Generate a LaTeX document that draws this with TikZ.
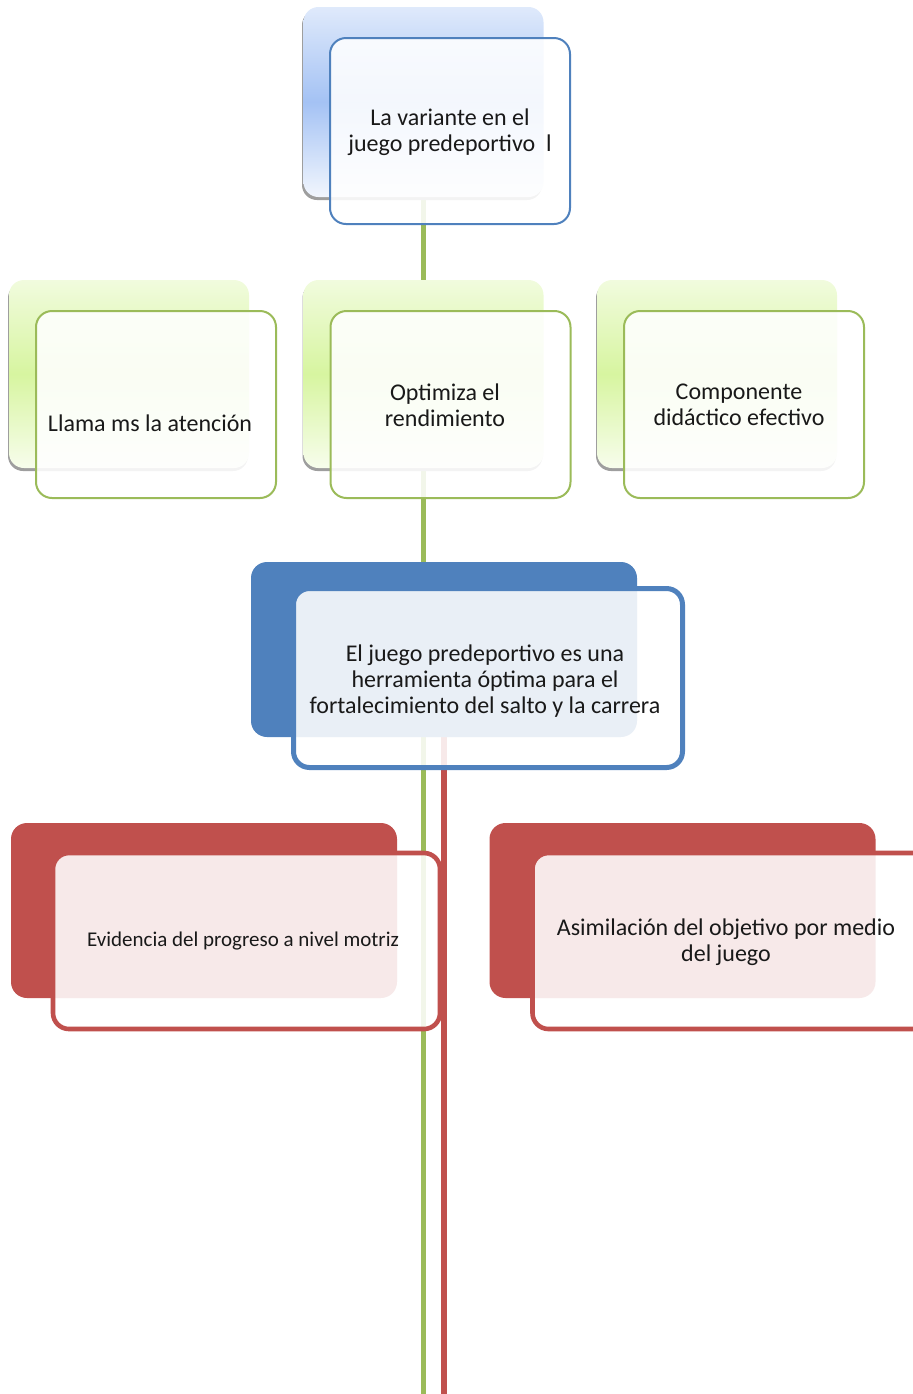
\documentclass[tikz,border=0pt]{standalone}
\usepackage{fontspec}
\setmainfont{Carlito}
\usetikzlibrary{positioning,backgrounds}
\definecolor{accblue}{RGB}{79,129,189}
\definecolor{accgreen}{RGB}{155,187,89}
\definecolor{accred}{RGB}{192,80,77}
\definecolor{paleblue}{RGB}{164,194,244}
\definecolor{palegreen}{RGB}{215,245,160}

\begin{document}
\begin{tikzpicture}[x=0.5pt,y=-0.5pt, every node/.style={align=center,inner sep=0pt},
    shd/.style={rounded corners=7.5pt,fill=black!38},
    bluebk/.style={rounded corners=7.5pt,top color=paleblue!35,bottom color=paleblue!15,middle color=paleblue,
      minimum width=120pt,minimum height=95pt},
    greenbk/.style={rounded corners=7.5pt,top color=palegreen!35,bottom color=palegreen!20,middle color=palegreen,
      minimum width=120pt,minimum height=94pt},
    solidbk/.style={rounded corners=8pt,fill=#1,minimum width=193pt,minimum height=87.5pt},
    fr/.style={draw=#1,rounded corners=8pt,fill=white,fill opacity=0.88,text opacity=1},
    txt/.style={font=\fontsize{12}{13}\selectfont,text=black!90}]
  \useasboundingbox (0,0) rectangle (913,1394);

  % top
  \node[shd,minimum width=120pt,minimum height=95pt] at (422,105) {};
  \node[bluebk] (topbk) at (423.5,102) {};
  \node[fr=accblue,line width=1pt,minimum width=120pt,minimum height=93pt] (topfr) at (450,131) {};

  % middle row
  \foreach \x/\n in {129/l,423.5/m,717/r}{
    \node[shd,minimum width=120pt,minimum height=94pt] at (\x-1,377) {};
    \node[greenbk] (gbk\n) at (\x,374) {};
    \node[fr=accgreen,line width=1pt,minimum width=120pt,minimum height=93.5pt] (gfr\n) at (\x+27,404.5) {};
  }

  % main
  \node[solidbk=accblue] (mainbk) at (444,649.5) {};
  \node[fr=accblue,line width=2.5pt,minimum width=194.5pt,minimum height=89.5pt] (mainfr) at (488,678) {};

  % bottom row
  \node[solidbk=accred] (redbkl) at (204,910.5) {};
  \node[fr=accred,line width=2.3pt,minimum width=193.5pt,minimum height=88pt] (redfrl) at (246.5,941) {};
  \node[solidbk=accred] (redbkr) at (682.5,910.5) {};
  \node[fr=accred,line width=2.3pt,minimum width=198pt,minimum height=88pt] (redfrr) at (730.5,941) {};

  % texts
  \node[txt] (ttop) at (450,132) {La variante en el\\juego predeportivo\ \ l};
  \node[txt] (tl) at (150,423) {Llama ms la atención};
  \node[txt] (tm) at (445,405) {Optimiza el\\rendimiento};
  \node[txt] (tr) at (739,405) {Componente\\didáctico efectivo};
  \node[txt] (tmain) at (485,681) {El juego predeportivo es una\\herramienta óptima para el\\fortalecimiento del salto y la carrera};
  \node[txt,font=\fontsize{10.5}{12}\selectfont] (tev) at (243,941) {Evidencia del progreso a nivel motriz};
  \node[txt] (tas) at (726,942) {Asimilación del objetivo por medio\\del juego};

  % trunk lines
  \coordinate (gbot) at (423.5,1400);
  \coordinate (rbot) at (444,1400);
  \begin{scope}[on background layer]
    \draw[accgreen,line width=2.6pt] (topbk.south) -- (gbot);
    \draw[accred,line width=2.6pt] (mainbk.south) -- (rbot);
  \end{scope}
\end{tikzpicture}
\end{document}
